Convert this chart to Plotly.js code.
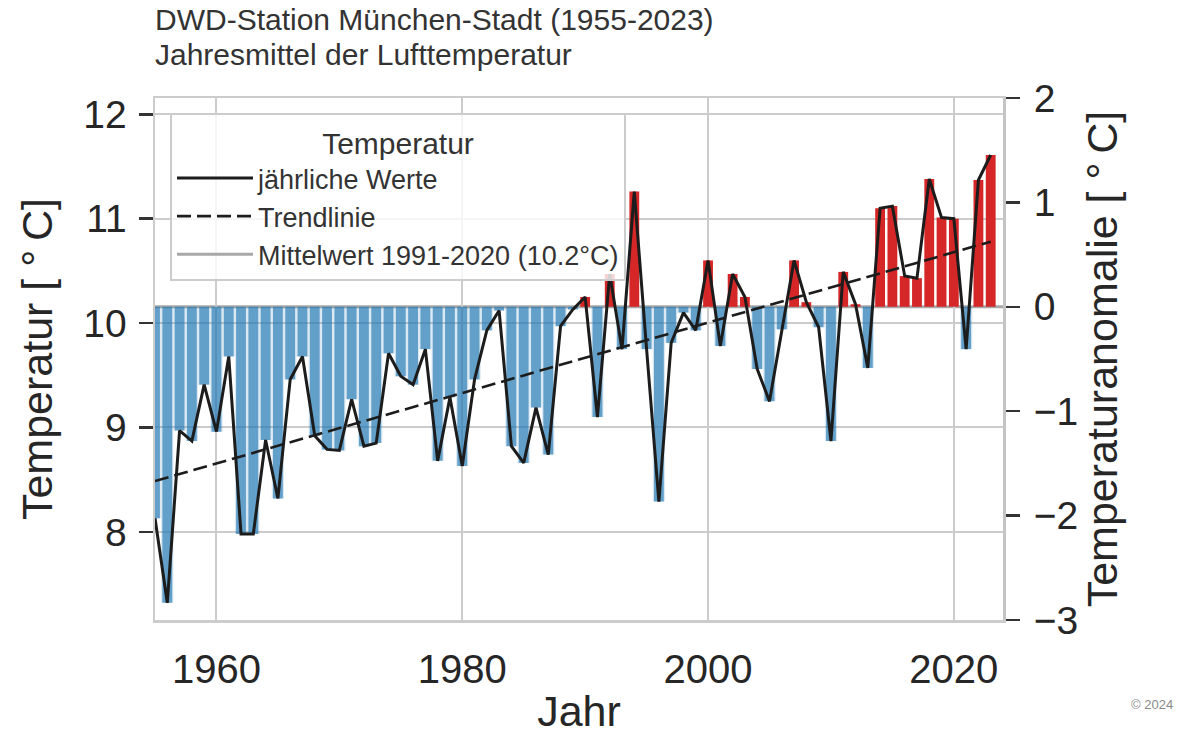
<!DOCTYPE html>
<html>
<head>
<meta charset="utf-8">
<script src="https://cdn.plot.ly/plotly-3.0.1.min.js"></script>
<style>
  html, body { margin: 0; padding: 0; background: #ffffff; }
  #chart { width: 1182px; height: 735px; }
</style>
</head>
<body>
<div id="chart"></div>
<script>
// ---- Data ----
const years = [
  1955,1956,1957,1958,1959,1960,1961,1962,1963,1964,
  1965,1966,1967,1968,1969,1970,1971,1972,1973,1974,
  1975,1976,1977,1978,1979,1980,1981,1982,1983,1984,
  1985,1986,1987,1988,1989,1990,1991,1992,1993,1994,
  1995,1996,1997,1998,1999,2000,2001,2002,2003,2004,
  2005,2006,2007,2008,2009,2010,2011,2012,2013,2014,
  2015,2016,2017,2018,2019,2020,2021,2022,2023
];
const temps = [
  8.13, 7.32, 8.97, 8.87, 9.41, 8.96, 9.68, 7.98, 7.98, 8.88,
  8.32, 9.46, 9.68, 8.92, 8.79, 8.78, 9.27, 8.82, 8.85, 9.71,
  9.49, 9.41, 9.75, 8.68, 9.29, 8.63, 9.46, 9.93, 10.12, 8.82,
  8.66, 9.19, 8.74, 9.97, 10.13, 10.25, 9.10, 10.47, 9.75, 11.26,
  9.75, 8.29, 9.81, 10.10, 9.93, 10.60, 9.78, 10.47, 10.25, 9.56,
  9.25, 9.94, 10.60, 10.20, 9.96, 8.87, 10.49, 10.18, 9.57, 11.10,
  11.12, 10.45, 10.43, 11.38, 11.01, 11.00, 9.75, 11.37, 11.61
];
const refStart = 1991, refEnd = 2020;
const xTickVals = [1960, 1980, 2000, 2020];
const yTickVals = [8, 9, 10, 11, 12];
const y2TickVals = [-3, -2, -1, 0, 1, 2];

const titleLine1 = "DWD-Station München-Stadt (1955-2023)";
const titleLine2 = "Jahresmittel der Lufttemperatur";
const legendTitle = "Temperatur";
const nameYearly = "jährliche Werte";
const nameTrend = "Trendlinie";
const copyrightText = "© 2024";

// ---- Derived values ----
const refVals = temps.filter((t, i) => years[i] >= refStart && years[i] <= refEnd);
const mean = refVals.reduce((a, b) => a + b, 0) / refVals.length;
const anomalies = temps.map(t => t - mean);
const nameMean = "Mittelwert " + refStart + "-" + refEnd + " (" + mean.toFixed(1) + "°C)";

// linear regression for trend line
const n = years.length;
const mx = years.reduce((a, b) => a + b, 0) / n;
const my = temps.reduce((a, b) => a + b, 0) / n;
let sxy = 0, sxx = 0;
for (let i = 0; i < n; i++) { sxy += (years[i] - mx) * (temps[i] - my); sxx += (years[i] - mx) ** 2; }
const slope = sxy / sxx;
const intercept = my - slope * mx;
const trendX = [years[0], years[n - 1]];
const trendY = trendX.map(x => intercept + slope * x);

const negAnom = anomalies.map(a => a < 0 ? a : null);
const posAnom = anomalies.map(a => a >= 0 ? a : null);

const FONT = "Liberation Sans, Arial, Helvetica, sans-serif";
const TXT = "#262626";

const xMin = years[0], xMax = years[n - 1] + 1;
const y2Range = [-3, 2];

const traces = [
  { // pale underlay for negative bars
    type: "bar", x: years, y: negAnom, base: mean, width: 1.0,
    marker: { color: "rgba(31,119,180,0.17)", line: { width: 0 } },
    showlegend: false, hoverinfo: "skip", xaxis: "x", yaxis: "y"
  },
  {
    type: "bar", x: years, y: negAnom, base: mean, width: 0.8,
    marker: { color: "rgba(31,119,180,0.64)", line: { width: 0 } },
    showlegend: false, xaxis: "x", yaxis: "y"
  },
  {
    type: "bar", x: years, y: posAnom, base: mean, width: 0.8,
    marker: { color: "#d62728", line: { width: 0 } },
    showlegend: false, xaxis: "x", yaxis: "y"
  },
  {
    type: "scatter", mode: "lines", x: years, y: temps, name: nameYearly,
    line: { color: "#1c1c1c", width: 3 }, xaxis: "x", yaxis: "y"
  },
  {
    type: "scatter", mode: "lines", x: trendX, y: trendY, name: nameTrend,
    line: { color: "#1c1c1c", width: 2.6, dash: "14px,6px" }, xaxis: "x", yaxis: "y"
  },
  { // invisible trace carrying the anomaly axis
    type: "scatter", mode: "lines", x: years, y: anomalies,
    line: { color: "rgba(0,0,0,0)", width: 1 }, showlegend: false,
    hoverinfo: "skip", xaxis: "x", yaxis: "y2"
  }
];

const layout = {
  width: 1182, height: 735,
  margin: { l: 155, r: 179, t: 98, b: 115, pad: 0 },
  paper_bgcolor: "#ffffff", plot_bgcolor: "#ffffff",
  font: { family: FONT, color: TXT },
  barmode: "overlay",
  showlegend: true,
  title: {
    text: titleLine1, x: 155 / 1182, xanchor: "left", xref: "container",
    y: 1 - 19 / 735, yanchor: "middle", yref: "container",
    font: { family: FONT, size: 30, color: "#333333" }, pad: { t: 0, l: 0, b: 0, r: 0 }
  },
  annotations: [
    { text: titleLine2, xref: "paper", yref: "paper", x: 0, y: 1 + 43 / 522,
      xanchor: "left", yanchor: "middle", showarrow: false, xshift: -2,
      font: { family: FONT, size: 30, color: "#333333" } },
    { text: copyrightText, xref: "paper", yref: "paper", x: 1 + 172 / 848, y: -84 / 522,
      xanchor: "right", yanchor: "middle", showarrow: false,
      font: { family: FONT, size: 13, color: "#8a8a8a" } }
  ],
  xaxis: {
    range: [xMin, xMax], tickvals: xTickVals, ticks: "", automargin: false,
    showgrid: true, gridcolor: "#cccccc", gridwidth: 2,
    showline: true, mirror: true, linecolor: "#cccccc", linewidth: 2.5,
    zeroline: false, tickfont: { size: 40, color: TXT }, ticklabelstandoff: 12,
    title: { text: "Jahr", font: { size: 43, color: TXT }, standoff: 18 }
  },
  yaxis: {
    range: [mean + y2Range[0], mean + y2Range[1]], tickvals: yTickVals,
    ticks: "outside", ticklen: 14, tickwidth: 2.5, tickcolor: "#333333",
    automargin: false, showgrid: true, gridcolor: "#cccccc", gridwidth: 2,
    showline: true, mirror: true, linecolor: "#cccccc", linewidth: 2.5,
    zeroline: false, tickfont: { size: 39, color: TXT }, ticklabelstandoff: 4,
    title: { text: "Temperatur [ °\u2009C]", font: { size: 43, color: TXT }, standoff: 18 }
  },
  yaxis2: {
    overlaying: "y", side: "right", range: y2Range, tickvals: y2TickVals,
    ticks: "outside", ticklen: 14, tickwidth: 2.5, tickcolor: "#333333",
    automargin: false, showgrid: false, zeroline: false,
    showline: true, linecolor: "#c4c4c4", linewidth: 3,
    tickfont: { size: 39, color: TXT }, ticklabelstandoff: 6,
    title: { text: "Temperaturanomalie [ °\u2009C]", font: { size: 43, color: TXT }, standoff: 10 }
  },
  shapes: [
    { type: "line", xref: "x", yref: "y", x0: xMin, x1: xMax, y0: mean, y1: mean,
      layer: "below", line: { color: "#a8a8a8", width: 3 },
      showlegend: true, name: nameMean }
  ],
  legend: {
    x: 15 / 848, y: 1 - 15 / 522, xanchor: "left", yanchor: "top",
    bgcolor: "rgba(255,255,255,0.8)", bordercolor: "#cccccc", borderwidth: 2,
    font: { size: 27, color: "#333333" },
    title: { text: legendTitle, side: "top center", font: { size: 30, color: "#333333" } },
    itemwidth: 76, tracegroupgap: 0, valign: "middle"
  }
};

Plotly.newPlot("chart", traces, layout, { displayModeBar: false, staticPlot: true });
</script>
</body>
</html>
